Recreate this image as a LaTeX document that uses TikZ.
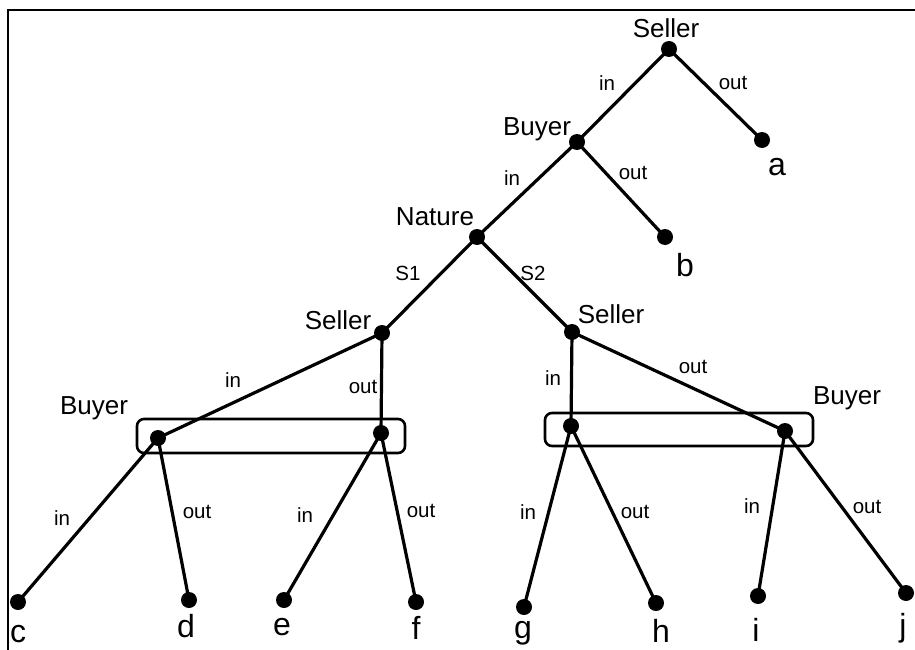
\documentclass[tikz,border=0pt]{standalone}
\usepackage{fontspec}
\setmainfont{Liberation Sans}
\begin{document}
\begin{tikzpicture}[x=1pt,y=-1pt,
  dot/.style={circle,fill=black,inner sep=0pt,minimum size=16pt},
  edge/.style={line width=3.2pt},
  nlab/.style={font=\fontsize{26}{30}\selectfont,inner sep=0pt},
  elab/.style={font=\fontsize{20.5}{24}\selectfont,inner sep=0pt},
  tlab/.style={font=\fontsize{32}{36}\selectfont,inner sep=0pt},
  infoset/.style={draw,line width=2.6pt,rounded corners=7pt},
  frame/.style={line width=2pt}]
\useasboundingbox (0,0) rectangle (915,650);
\draw[frame] (915,10) -- (8,10) -- (8,650);
% decision nodes
\node[dot] (s0) at (669,49) {};
\node[dot] (b0) at (577,142) {};
\node[dot] (n0) at (477,237) {};
\node[dot] (s1) at (382,333) {};
\node[dot] (s2) at (572,332) {};
\node[dot] (l1) at (158,438) {};
\node[dot] (l2) at (381,433) {};
\node[dot] (r1) at (571,426) {};
\node[dot] (r2) at (785,431) {};
% terminal nodes
\node[dot] (ta) at (762,140) {};
\node[dot] (tb) at (665,237) {};
\node[dot] (tc) at (18,602) {};
\node[dot] (td) at (189,600) {};
\node[dot] (te) at (284,600) {};
\node[dot] (tf) at (416,602) {};
\node[dot] (tg) at (524,607) {};
\node[dot] (th) at (656,603) {};
\node[dot] (ti) at (758,596) {};
\node[dot] (tj) at (906,593) {};
% information sets
\draw[infoset] (137,419) rectangle (405,453);
\draw[infoset] (545,413) rectangle (813,446);
% edges
\draw[edge] (s0.center) -- (b0.center);
\draw[edge] (s0.center) -- (ta.center);
\draw[edge] (b0.center) -- (n0.center);
\draw[edge] (b0.center) -- (tb.center);
\draw[edge] (n0.center) -- (s1.center);
\draw[edge] (n0.center) -- (s2.center);
\draw[edge] (s1.center) -- (l1.center);
\draw[edge] (s1.center) -- (l2.center);
\draw[edge] (s2.center) -- (r1.center);
\draw[edge] (s2.center) -- (r2.center);
\draw[edge] (l1.center) -- (tc.center);
\draw[edge] (l1.center) -- (td.center);
\draw[edge] (l2.center) -- (te.center);
\draw[edge] (l2.center) -- (tf.center);
\draw[edge] (r1.center) -- (tg.center);
\draw[edge] (r1.center) -- (th.center);
\draw[edge] (r2.center) -- (ti.center);
\draw[edge] (r2.center) -- (tj.center);
% player labels
\node[nlab] (ls0) at (666,28) {Seller};
\node[nlab] (lb0) at (537,129) {Buyer};
\node[nlab] (ln0) at (435,217) {Nature};
\node[nlab] (ls1) at (338,320) {Seller};
\node[nlab] (ls2) at (611,314) {Seller};
\node[nlab] (ll) at (94,408) {Buyer};
\node[nlab] (lr) at (847,398) {Buyer};
% action labels
\node[elab] (e1) at (607,83) {in};
\node[elab] (e2) at (733,83) {out};
\node[elab] (e3) at (512,178) {in};
\node[elab] (e4) at (633,173) {out};
\node[elab] (e5) at (408,273) {S1};
\node[elab] (e6) at (533,273) {S2};
\node[elab] (e7) at (233,380) {in};
\node[elab] (e8) at (363,387) {out};
\node[elab] (e9) at (553,378) {in};
\node[elab] (e10) at (693,367) {out};
\node[elab] (e11) at (62,518) {in};
\node[elab] (e12) at (197,512) {out};
\node[elab] (e13) at (305,515) {in};
\node[elab] (e14) at (421,511) {out};
\node[elab] (e15) at (528,512) {in};
\node[elab] (e16) at (635,512) {out};
\node[elab] (e17) at (752,506) {in};
\node[elab] (e18) at (867,507) {out};
% outcome labels
\node[tlab] (oa) at (777,167) {a};
\node[tlab] (ob) at (685,265) {b};
\node[tlab] (oc) at (18,634) {c};
\node[tlab] (od) at (186,626) {d};
\node[tlab] (oe) at (282,627) {e};
\node[tlab] (of) at (416,628) {f};
\node[tlab] (og) at (523,633) {g};
\node[tlab] (oh) at (661,631) {h};
\node[tlab] (oi) at (756,630) {i};
\node[tlab] (oj) at (903,628) {j};
\end{tikzpicture}
\end{document}
